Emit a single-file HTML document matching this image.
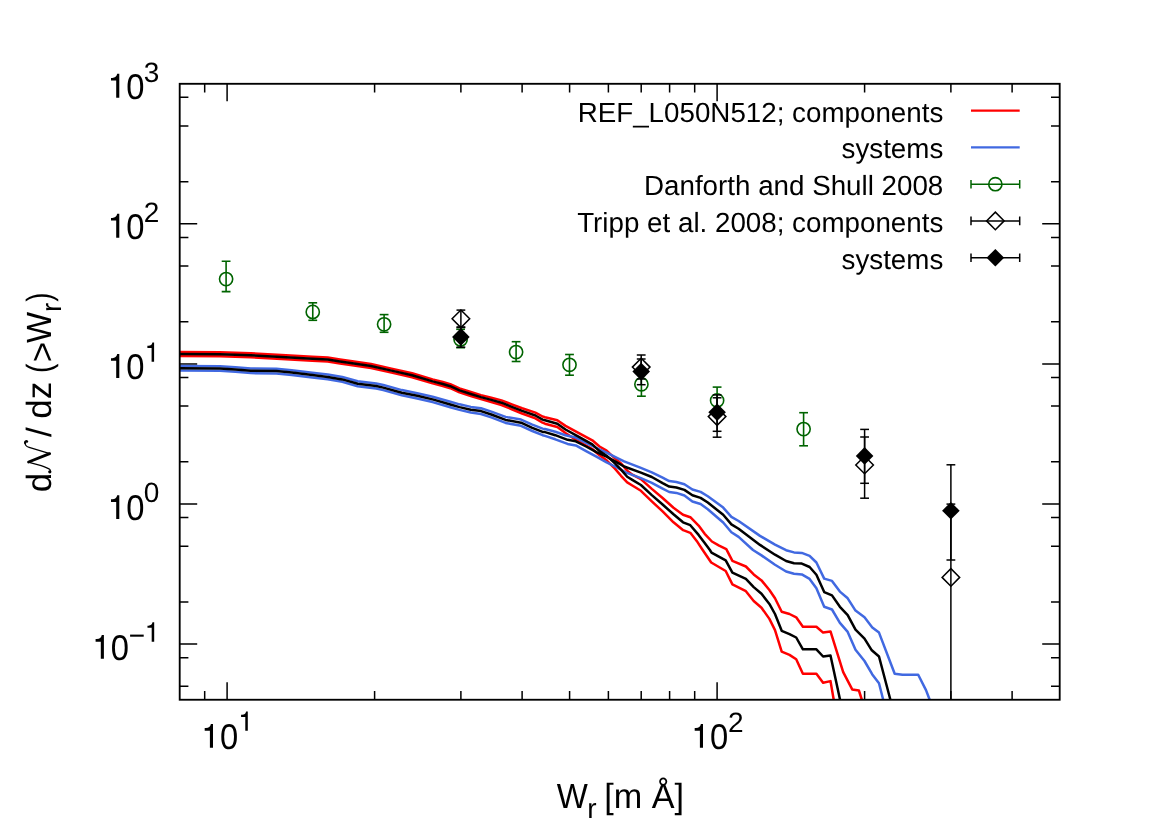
<!DOCTYPE html>
<html><head><meta charset="utf-8"><title>dN/dz</title>
<style>html,body{margin:0;padding:0;background:#fff;}body{width:1170px;height:827px;overflow:hidden;font-family:"Liberation Sans",sans-serif;}svg{display:block;will-change:transform;}text{text-rendering:geometricPrecision;}</style>
</head><body>
<svg width="1170" height="827" viewBox="0 0 1170 827">
<rect x="0" y="0" width="1170" height="827" fill="#ffffff"/>
<defs><clipPath id="pc"><rect x="179.7" y="83.8" width="880" height="615.95"/></clipPath></defs>
<g stroke="#000" stroke-width="1.5" fill="none">
<path d="M204.68,699.75 v-8.7 M204.68,83.8 v8.7"/>
<path d="M227.1,699.75 v-17.5 M227.1,83.8 v17.5"/>
<path d="M374.6,699.75 v-8.7 M374.6,83.8 v8.7"/>
<path d="M460.89,699.75 v-8.7 M460.89,83.8 v8.7"/>
<path d="M522.11,699.75 v-8.7 M522.11,83.8 v8.7"/>
<path d="M569.6,699.75 v-8.7 M569.6,83.8 v8.7"/>
<path d="M608.39,699.75 v-8.7 M608.39,83.8 v8.7"/>
<path d="M641.2,699.75 v-8.7 M641.2,83.8 v8.7"/>
<path d="M669.61,699.75 v-8.7 M669.61,83.8 v8.7"/>
<path d="M694.68,699.75 v-8.7 M694.68,83.8 v8.7"/>
<path d="M717.1,699.75 v-17.5 M717.1,83.8 v17.5"/>
<path d="M864.6,699.75 v-8.7 M864.6,83.8 v8.7"/>
<path d="M950.89,699.75 v-8.7 M950.89,83.8 v8.7"/>
<path d="M1012.11,699.75 v-8.7 M1012.11,83.8 v8.7"/>
<path d="M179.7,686.25 h8.7 M1059.7,686.25 h-8.7"/>
<path d="M179.7,657.65 h8.7 M1059.7,657.65 h-8.7"/>
<path d="M179.7,644.08 h17.5 M1059.7,644.08 h-17.5"/>
<path d="M179.7,601.91 h8.7 M1059.7,601.91 h-8.7"/>
<path d="M179.7,546.18 h8.7 M1059.7,546.18 h-8.7"/>
<path d="M179.7,517.58 h8.7 M1059.7,517.58 h-8.7"/>
<path d="M179.7,504.01 h17.5 M1059.7,504.01 h-17.5"/>
<path d="M179.7,461.84 h8.7 M1059.7,461.84 h-8.7"/>
<path d="M179.7,406.11 h8.7 M1059.7,406.11 h-8.7"/>
<path d="M179.7,377.51 h8.7 M1059.7,377.51 h-8.7"/>
<path d="M179.7,363.94 h17.5 M1059.7,363.94 h-17.5"/>
<path d="M179.7,321.77 h8.7 M1059.7,321.77 h-8.7"/>
<path d="M179.7,266.04 h8.7 M1059.7,266.04 h-8.7"/>
<path d="M179.7,237.44 h8.7 M1059.7,237.44 h-8.7"/>
<path d="M179.7,223.87 h17.5 M1059.7,223.87 h-17.5"/>
<path d="M179.7,181.7 h8.7 M1059.7,181.7 h-8.7"/>
<path d="M179.7,125.97 h8.7 M1059.7,125.97 h-8.7"/>
<path d="M179.7,97.37 h8.7 M1059.7,97.37 h-8.7"/>
</g>
<g clip-path="url(#pc)">
<polyline points="179.7,352 220,352.15 250.8,353.2 281.5,354.9 312.3,356.7 327.7,357.6 340,359.4 350.5,360.9 371,364 391.5,368.6 412.1,373.3 432.6,379.4 442.8,382 450.3,384.2 459.5,388.4 470.8,392 481,395.09 491.3,397.74 501.5,400.39 511.8,404.34 522.1,408.29 535.4,412.68 542.6,416.5 545,417.2 557.3,420.3 565.5,425.9 578.9,433.1 592.3,440.3 599.5,446.5 606.6,450.6 614.9,458.3 621,463.4 627.2,470.6 632.3,474.7 640.9,479.1 651.8,488.9 662.6,498 673.5,507.8 683,514.7 690.3,517.2 698.6,525.6 704.7,533.8 711.9,541.5 719.1,545.7 726.3,549.2 732.4,560.9 745.9,566.5 753.7,574.4 761.5,580.4 769.4,590 775,598.3 781.7,611.7 789.5,614 796.2,617.3 802.9,626.7 816.4,626.7 823.1,632.6 830.5,631.4 843.2,672.2 852.2,689.4 858.9,690.5 861.6,699 864,710" fill="none" stroke="#ff0000" stroke-width="2.5" stroke-linejoin="round" stroke-linecap="butt"/>
<polyline points="179.7,356 220,356.15 250.8,357.2 281.5,358.9 312.3,360.7 327.7,361.6 340,363.4 350.5,364.9 371,368 391.5,372.6 412.1,377.3 432.6,383.4 442.8,386 450.3,388.2 459.5,392.4 470.8,396 481,399.11 491.3,402.06 501.5,405.01 511.8,409.26 522.1,413.51 535.4,418.32 542.6,422.7 545,423.7 557.3,427 565.5,433.1 575.8,439.8 592.3,449 599.5,455.2 606.6,460.3 614.9,468.6 621,475.8 627.2,482.4 632.3,485.5 640.9,490.8 651.8,501.3 662.6,511.4 673.5,522.3 683.2,530.2 690.3,532.8 697.5,542.1 702.7,550 711.2,562.5 725.7,571 732.4,584.4 745.9,591.2 753.7,601 761.5,607.7 769.4,618.9 775,630.1 781.7,651.6 789.5,654.9 796.2,659.2 802.9,673.7 816.4,673.7 823.1,682.7 830.5,681.1 833.6,699 835.5,710" fill="none" stroke="#ff0000" stroke-width="2.5" stroke-linejoin="round" stroke-linecap="butt"/>
<polyline points="179.7,366.05 220,366.21 235.4,367.19 250.8,368.48 276.4,368.75 291.8,370.24 312.3,372.72 327.7,374.5 342.3,376.97 357.7,381.32 376.2,383.47 383.3,385.05 401.8,390.1 417.2,393.16 432.6,396.72 450.3,401.76 459.5,404.33 470.8,406.89 481,408.25 491.3,411.58 505.6,416.88 521,419.57 532.3,424.59 542.6,428.62 545,429 555.3,431.8 565.5,435.2 574.8,437.2 586.1,442.9 596.4,448 606.6,452.6 616.9,457.8 624.1,461.4 640.9,467.9 651.8,472.3 662.6,477.7 669.2,481.1 676.4,482 684.4,484.2 692.4,489.5 700.6,491.9 707.8,496.3 723.2,507.6 731.4,516.9 738.6,521 760,535.9 775,544.6 786.1,550.2 794,552.4 801.8,552.9 809.6,555.8 816.4,562.5 824.2,578.6 832,580.9 839.9,591.6 847.7,598.3 855.5,610.6 864.5,617.3 872.3,627.4 879,632.6 894.7,673.7 902.5,674.8 918.2,674.8 926,690.1 929.4,699 933,710" fill="none" stroke="#4169e1" stroke-width="2.5" stroke-linejoin="round" stroke-linecap="butt"/>
<polyline points="179.7,370.55 220,370.79 235.4,371.81 250.8,373.12 276.4,373.45 291.8,374.96 312.3,377.48 327.7,379.3 342.3,381.83 357.7,386.28 376.2,388.53 383.3,390.15 401.8,395.3 417.2,398.44 432.6,402.08 450.3,407.24 459.5,409.87 470.8,412.51 481,413.95 491.3,417.42 505.6,422.92 521,425.83 532.3,431.01 542.6,435.18 545,435.9 555.3,439.3 567.6,443.9 575.8,445.4 586.1,451.1 596.4,456.7 606.6,462.4 616.9,467.5 626.2,472.7 640.9,478.1 651.8,482.8 662.6,488.6 669.2,492 676.4,492.9 684.4,495.5 692.4,501.5 700.6,504 707.8,509.2 723.2,522.5 731.4,532.3 738.6,536.9 753,550 761.5,555.4 775,564.8 786.1,571.5 794,573.7 801.8,574.4 809.6,578.9 816.4,588.2 824.2,606.8 832,609.5 839.9,622.9 847.7,631.9 855.5,649.8 864.5,661 872.3,674.4 879,683.3 883,699 885.5,710" fill="none" stroke="#4169e1" stroke-width="2.5" stroke-linejoin="round" stroke-linecap="butt"/>
<polyline points="179.7,354 220,354.15 250.8,355.2 281.5,356.9 312.3,358.7 327.7,359.6 340,361.4 350.5,362.9 371,366 391.5,370.6 412.1,375.3 432.6,381.4 442.8,384 450.3,386.2 459.5,390.4 470.8,394 481,397.1 491.3,399.9 501.5,402.7 511.8,406.8 522.1,410.9 535.4,415.5 542.6,419.6 545,420.3 557.3,423.7 565.5,429.5 578.9,436.9 592.3,444.4 599.5,451.1 606.6,455.7 614.9,463.4 621,469.6 627.2,476.8 632.3,479.9 640.9,485 651.8,495.1 662.6,504.5 673.5,514.3 683,522.3 690.3,525.2 698.6,534.9 704.7,543.1 709.9,550 711.5,552.6 725.7,560.3 732.4,572.6 745.9,578.9 753.7,587.1 761.5,593.8 769.4,603.9 775,614 781.7,630.8 789.5,634.1 796.2,637.5 802.9,649.3 816.4,649.3 823.1,656.5 830.5,655.4 839.9,699 842,710" fill="none" stroke="#000000" stroke-width="2.5" stroke-linejoin="round" stroke-linecap="butt"/>
<polyline points="179.7,368.3 220,368.5 235.4,369.5 250.8,370.8 276.4,371.1 291.8,372.6 312.3,375.1 327.7,376.9 342.3,379.4 357.7,383.8 376.2,386 383.3,387.6 401.8,392.7 417.2,395.8 432.6,399.4 450.3,404.5 459.5,407.1 470.8,409.7 481,411.1 491.3,414.5 505.6,419.9 521,422.7 532.3,427.8 542.6,431.9 545,432.1 555.3,435.2 567.6,439.8 575.8,441.3 586.1,446.5 596.4,452.1 606.6,456.7 616.9,462.4 624.1,466.5 640.9,472.6 651.8,477 662.6,483.1 669.2,486.6 676.4,487.5 684.4,489.9 692.4,495.3 700.6,497.9 707.8,502.5 723.2,514.8 731.4,524.4 738.6,528.7 760,544.9 775,554.7 786.1,561 794,563.2 801.8,563.6 809.6,567 816.4,574.8 824.2,592.1 832,595.4 839.9,606.8 847.7,615.1 855.5,629.6 864.5,638.6 871.8,650.3 879,656.5 890.2,699 893,710" fill="none" stroke="#000000" stroke-width="2.5" stroke-linejoin="round" stroke-linecap="butt"/>
</g>
<g clip-path="url(#pc)">
<path d="M226.1,261.3 V291.6" stroke="#006400" stroke-width="1.6" fill="none"/>
<path d="M221.7,261.3 H230.5" stroke="#006400" stroke-width="1.6" fill="none"/>
<path d="M221.7,291.6 H230.5" stroke="#006400" stroke-width="1.6" fill="none"/>
<circle cx="226.1" cy="279.1" r="6.6" fill="none" stroke="#006400" stroke-width="1.6"/>
<path d="M312.76,302.8 V320.3" stroke="#006400" stroke-width="1.6" fill="none"/>
<path d="M308.36,302.8 H317.16" stroke="#006400" stroke-width="1.6" fill="none"/>
<path d="M308.36,320.3 H317.16" stroke="#006400" stroke-width="1.6" fill="none"/>
<circle cx="312.76" cy="311.9" r="6.6" fill="none" stroke="#006400" stroke-width="1.6"/>
<path d="M384.1,314.6 V332.3" stroke="#006400" stroke-width="1.6" fill="none"/>
<path d="M379.7,314.6 H388.5" stroke="#006400" stroke-width="1.6" fill="none"/>
<path d="M379.7,332.3 H388.5" stroke="#006400" stroke-width="1.6" fill="none"/>
<circle cx="384.1" cy="324.35" r="6.6" fill="none" stroke="#006400" stroke-width="1.6"/>
<path d="M460.6,329.3 V347.7" stroke="#006400" stroke-width="1.6" fill="none"/>
<path d="M456.2,329.3 H465" stroke="#006400" stroke-width="1.6" fill="none"/>
<path d="M456.2,347.7 H465" stroke="#006400" stroke-width="1.6" fill="none"/>
<circle cx="460.6" cy="339.5" r="6.6" fill="none" stroke="#006400" stroke-width="1.6"/>
<path d="M516.1,341.7 V361.5" stroke="#006400" stroke-width="1.6" fill="none"/>
<path d="M511.7,341.7 H520.5" stroke="#006400" stroke-width="1.6" fill="none"/>
<path d="M511.7,361.5 H520.5" stroke="#006400" stroke-width="1.6" fill="none"/>
<circle cx="516.1" cy="352.05" r="6.6" fill="none" stroke="#006400" stroke-width="1.6"/>
<path d="M569.5,354.5 V375.2" stroke="#006400" stroke-width="1.6" fill="none"/>
<path d="M565.1,354.5 H573.9" stroke="#006400" stroke-width="1.6" fill="none"/>
<path d="M565.1,375.2 H573.9" stroke="#006400" stroke-width="1.6" fill="none"/>
<circle cx="569.5" cy="364.8" r="6.6" fill="none" stroke="#006400" stroke-width="1.6"/>
<path d="M641.4,373.5 V396.2" stroke="#006400" stroke-width="1.6" fill="none"/>
<path d="M637,373.5 H645.8" stroke="#006400" stroke-width="1.6" fill="none"/>
<path d="M637,396.2 H645.8" stroke="#006400" stroke-width="1.6" fill="none"/>
<circle cx="641.4" cy="384.3" r="6.6" fill="none" stroke="#006400" stroke-width="1.6"/>
<path d="M717.1,387.1 V411.5" stroke="#006400" stroke-width="1.6" fill="none"/>
<path d="M712.7,387.1 H721.5" stroke="#006400" stroke-width="1.6" fill="none"/>
<path d="M712.7,411.5 H721.5" stroke="#006400" stroke-width="1.6" fill="none"/>
<circle cx="717.1" cy="400.4" r="6.6" fill="none" stroke="#006400" stroke-width="1.6"/>
<path d="M803.6,412.7 V445.8" stroke="#006400" stroke-width="1.6" fill="none"/>
<path d="M799.2,412.7 H808" stroke="#006400" stroke-width="1.6" fill="none"/>
<path d="M799.2,445.8 H808" stroke="#006400" stroke-width="1.6" fill="none"/>
<circle cx="803.6" cy="429.1" r="6.6" fill="none" stroke="#006400" stroke-width="1.6"/>
<path d="M460.89,310.1 V327" stroke="#000000" stroke-width="1.5" fill="none"/>
<path d="M456.49,310.1 H465.29" stroke="#000000" stroke-width="1.5" fill="none"/>
<path d="M456.49,327 H465.29" stroke="#000000" stroke-width="1.5" fill="none"/>
<path d="M460.89,310 L469.69,318.8 L460.89,327.6 L452.09,318.8 Z" fill="none" stroke="#000" stroke-width="1.5" stroke-linejoin="miter"/>
<path d="M641.2,355 V379" stroke="#000000" stroke-width="1.5" fill="none"/>
<path d="M636.8,355 H645.6" stroke="#000000" stroke-width="1.5" fill="none"/>
<path d="M636.8,379 H645.6" stroke="#000000" stroke-width="1.5" fill="none"/>
<path d="M641.2,358.3 L650,367.1 L641.2,375.9 L632.4,367.1 Z" fill="none" stroke="#000" stroke-width="1.5" stroke-linejoin="miter"/>
<path d="M717.1,397.8 V437.2" stroke="#000000" stroke-width="1.5" fill="none"/>
<path d="M712.7,397.8 H721.5" stroke="#000000" stroke-width="1.5" fill="none"/>
<path d="M712.7,437.2 H721.5" stroke="#000000" stroke-width="1.5" fill="none"/>
<path d="M717.1,407.8 L725.9,416.6 L717.1,425.4 L708.3,416.6 Z" fill="none" stroke="#000" stroke-width="1.5" stroke-linejoin="miter"/>
<path d="M864.6,437 V498.2" stroke="#000000" stroke-width="1.5" fill="none"/>
<path d="M860.2,437 H869" stroke="#000000" stroke-width="1.5" fill="none"/>
<path d="M860.2,498.2 H869" stroke="#000000" stroke-width="1.5" fill="none"/>
<path d="M864.6,456.2 L873.4,465 L864.6,473.8 L855.8,465 Z" fill="none" stroke="#000" stroke-width="1.5" stroke-linejoin="miter"/>
<path d="M950.89,504.1 V720" stroke="#000000" stroke-width="1.5" fill="none"/>
<path d="M946.49,504.1 H955.29" stroke="#000000" stroke-width="1.5" fill="none"/>
<path d="M950.89,568.6 L959.69,577.4 L950.89,586.2 L942.09,577.4 Z" fill="none" stroke="#000" stroke-width="1.5" stroke-linejoin="miter"/>
<path d="M460.89,327.5 V347.2" stroke="#000000" stroke-width="1.5" fill="none"/>
<path d="M456.49,327.5 H465.29" stroke="#000000" stroke-width="1.5" fill="none"/>
<path d="M456.49,347.2 H465.29" stroke="#000000" stroke-width="1.5" fill="none"/>
<path d="M460.89,328.1 L469.69,336.9 L460.89,345.7 L452.09,336.9 Z" fill="#000" stroke="none"/>
<path d="M641.2,359 V384.7" stroke="#000000" stroke-width="1.5" fill="none"/>
<path d="M636.8,359 H645.6" stroke="#000000" stroke-width="1.5" fill="none"/>
<path d="M636.8,384.7 H645.6" stroke="#000000" stroke-width="1.5" fill="none"/>
<path d="M641.2,362.8 L650,371.6 L641.2,380.4 L632.4,371.6 Z" fill="#000" stroke="none"/>
<path d="M717.1,394.9 V431.3" stroke="#000000" stroke-width="1.5" fill="none"/>
<path d="M712.7,394.9 H721.5" stroke="#000000" stroke-width="1.5" fill="none"/>
<path d="M712.7,431.3 H721.5" stroke="#000000" stroke-width="1.5" fill="none"/>
<path d="M717.1,403.4 L725.9,412.2 L717.1,421 L708.3,412.2 Z" fill="#000" stroke="none"/>
<path d="M864.6,429.4 V483.3" stroke="#000000" stroke-width="1.5" fill="none"/>
<path d="M860.2,429.4 H869" stroke="#000000" stroke-width="1.5" fill="none"/>
<path d="M860.2,483.3 H869" stroke="#000000" stroke-width="1.5" fill="none"/>
<path d="M864.6,447.1 L873.4,455.9 L864.6,464.7 L855.8,455.9 Z" fill="#000" stroke="none"/>
<path d="M950.89,464.8 V560" stroke="#000000" stroke-width="1.5" fill="none"/>
<path d="M946.49,464.8 H955.29" stroke="#000000" stroke-width="1.5" fill="none"/>
<path d="M946.49,560 H955.29" stroke="#000000" stroke-width="1.5" fill="none"/>
<path d="M950.89,501.9 L959.69,510.7 L950.89,519.5 L942.09,510.7 Z" fill="#000" stroke="none"/>
</g>
<rect x="179.7" y="83.8" width="880" height="615.95" fill="none" stroke="#000" stroke-width="1.85"/>
<g font-family='"Liberation Sans", sans-serif' font-size="27.75" fill="#000" text-anchor="end">
<text x="943.3" y="121.6">REF_L050N512; components</text>
<text x="943.3" y="158.3">systems</text>
<text x="943.3" y="195.1">Danforth and Shull 2008</text>
<text x="943.3" y="231.8">Tripp et al. 2008; components</text>
<text x="943.3" y="268.6">systems</text>
</g>
<path d="M971,110.7 H1019.7" stroke="#ff0000" stroke-width="2.3" fill="none"/>
<path d="M971,147.4 H1019.7" stroke="#4169e1" stroke-width="2.3" fill="none"/>
<path d="M971,184.2 H1019.7 M971,179.9 v8.6 M1019.7,179.9 v8.6" stroke="#006400" stroke-width="1.5" fill="none"/>
<path d="M971,220.9 H1019.7 M971,216.6 v8.6 M1019.7,216.6 v8.6" stroke="#000000" stroke-width="1.5" fill="none"/>
<path d="M971,257.7 H1019.7 M971,253.4 v8.6 M1019.7,253.4 v8.6" stroke="#000000" stroke-width="1.5" fill="none"/>
<circle cx="995.35" cy="184.2" r="6.6" fill="none" stroke="#006400" stroke-width="1.6"/>
<path d="M995.35,212.1 L1004.15,220.9 L995.35,229.7 L986.55,220.9 Z" fill="none" stroke="#000" stroke-width="1.5" stroke-linejoin="miter"/>
<path d="M995.35,248.9 L1004.15,257.7 L995.35,266.5 L986.55,257.7 Z" fill="#000" stroke="none"/>
<g font-family='"Liberation Sans", sans-serif' font-size="35" fill="#000">
<path d="M119.3,97.7 V73.85 H117.2 Q116.4,77.8 112.3,78 H111 V80.6 H116.2 V97.7 Z" fill="#000"/>
<text transform="translate(144.4,98.6) scale(0.935,1.02)" x="0" y="0" text-anchor="end">0</text>
<text x="143.8" y="81.9" font-size="28">3</text>
<path d="M119.3,237.7 V213.85 H117.2 Q116.4,217.8 112.3,218 H111 V220.6 H116.2 V237.7 Z" fill="#000"/>
<text transform="translate(144.4,238.6) scale(0.935,1.02)" x="0" y="0" text-anchor="end">0</text>
<text x="143.8" y="221.9" font-size="28">2</text>
<path d="M119.3,377.9 V354.05 H117.2 Q116.4,358 112.3,358.2 H111 V360.8 H116.2 V377.9 Z" fill="#000"/>
<text transform="translate(144.4,378.8) scale(0.935,1.02)" x="0" y="0" text-anchor="end">0</text>
<path d="M154.1,361.8 V342.48 H152.4 Q151.75,345.68 148.43,345.84 H147.38 V347.95 H151.59 V361.8 Z" fill="#000"/>
<path d="M119.3,519 V495.15 H117.2 Q116.4,499.1 112.3,499.3 H111 V501.9 H116.2 V519 Z" fill="#000"/>
<text transform="translate(144.4,519.9) scale(0.935,1.02)" x="0" y="0" text-anchor="end">0</text>
<text x="143.8" y="502.4" font-size="28">0</text>
<path d="M103.9,658.75 V634.9 H101.8 Q101,638.85 96.9,639.05 H95.6 V641.65 H100.8 V658.75 Z" fill="#000"/>
<text transform="translate(129,659.65) scale(0.935,1.02)" x="0" y="0" text-anchor="end">0</text>
<rect x="130.1" y="634.6" width="13.6" height="2.1" fill="#000"/>
<path d="M154.2,641.65 V622.33 H152.5 Q151.85,625.53 148.53,625.69 H147.48 V627.8 H151.69 V641.65 Z" fill="#000"/>
<path d="M213,747.8 V723.95 H210.9 Q210.1,727.9 206,728.1 H204.7 V730.7 H209.9 V747.8 Z" fill="#000"/>
<text transform="translate(238.1,748.7) scale(0.935,1.02)" x="0" y="0" text-anchor="end">0</text>
<path d="M247.8,730.8 V711.48 H246.1 Q245.45,714.68 242.13,714.84 H241.08 V716.95 H245.29 V730.8 Z" fill="#000"/>
<path d="M703,747.8 V723.95 H700.9 Q700.1,727.9 696,728.1 H694.7 V730.7 H699.9 V747.8 Z" fill="#000"/>
<text transform="translate(728.1,748.7) scale(0.935,1.02)" x="0" y="0" text-anchor="end">0</text>
<text x="728.1" y="731.5" font-size="28">2</text>
</g>
<g font-family='"Liberation Sans", sans-serif' font-size="35" fill="#000">
<text transform="translate(556.8,807.9) scale(0.94,1)" x="0" y="0">W</text>
<text x="587.2" y="818.1" font-size="28">r</text>
<text transform="translate(604.3,807.9) scale(0.977,1)" x="0" y="0">[m Å]</text>
</g>
<g transform="translate(51.0,492.3) rotate(-90)" font-family='"Liberation Sans", sans-serif' font-size="35" fill="#000">
<text x="0" y="0">d</text>
<g transform="translate(18.5,0) scale(1,-1)" fill="none" stroke="#000" stroke-linecap="round" stroke-linejoin="round">
<path d="M1.9,0.9 C3.2,0.3 4.4,0.9 4.9,2.0 Q7.6,7.9 8.4,10.75 L10.6,19.1 L11.6,22.6" stroke-width="1.25"/>
<path d="M11.8,22.4 L20.15,1.4" stroke-width="2.9"/>
<path d="M20.2,1.2 L26.45,21.85 C27.2,24.3 29.4,26.1 31.2,25.95" stroke-width="1.25"/>
<path d="M30.9,25.9 C32.3,26.0 32.9,24.9 32.3,23.9" stroke-width="2.3"/>
<circle cx="2.0" cy="1.2" r="1.65" fill="#000" stroke="none"/>
</g>
<text x="55.3" y="0">/</text>
<text x="73.5" y="0">dz</text>
<text transform="translate(119.3,0) scale(0.8,1)" x="0" y="0">(</text>
<text x="130" y="2.5">&gt;</text>
<text transform="translate(149.4,0) scale(0.94,1)" x="0" y="0">W</text>
<text x="180.3" y="10.0" font-size="28">r</text>
<text transform="translate(190.5,0) scale(0.8,1)" x="0" y="0">)</text>
</g>
</svg>
</body></html>
